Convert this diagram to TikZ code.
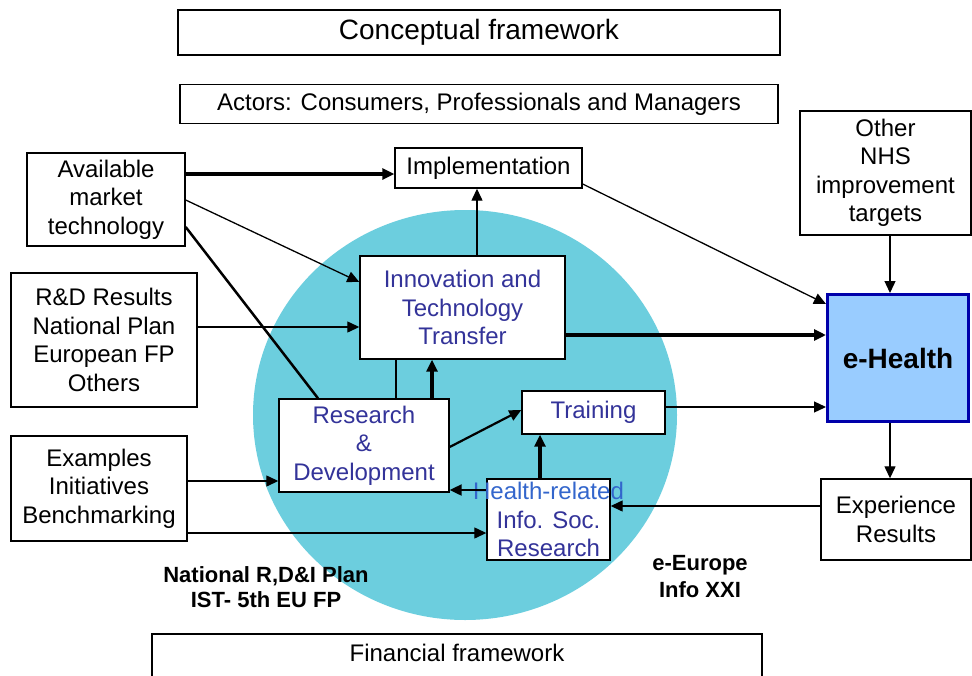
\documentclass[tikz,border=0pt]{standalone}
\usepackage{fontspec}
\setmainfont{Liberation Sans}
\usetikzlibrary{arrows.meta}
\definecolor{circ}{RGB}{108,206,222}
\definecolor{inner}{RGB}{51,51,153}
\definecolor{hrblue}{RGB}{51,102,204}
\definecolor{ehfill}{RGB}{153,204,255}
\definecolor{ehdraw}{RGB}{0,0,170}
\begin{document}
\begin{tikzpicture}[x=1pt,y=-1pt,
  box/.style={draw, line width=1.4pt, fill=white, inner sep=0pt, align=center, font=\fontsize{24}{28.5}\selectfont},
  ibox/.style={box, text=inner},
  lbl/.style={inner sep=0pt, align=center, font=\bfseries\fontsize{22}{25}\selectfont},
  conn/.style={line width=1.3pt},
  connmid/.style={line width=2.2pt},
  connthick/.style={line width=3.2pt},
  arr/.style={-{Triangle[length=12pt,width=11pt]}}
]
\useasboundingbox (0,0) rectangle (972,675);
\fill[white] (0,0) rectangle (972,675);
% central disc
\fill[circ] (465,415) ellipse [x radius=212, y radius=205];

% boxes
\node[box, minimum width=602, minimum height=45, font=\fontsize{28}{32}\selectfont] (concept) at (479,32.5) {Conceptual framework};
\node[box, minimum width=598, minimum height=39] (actors) at (479,104) {Actors: Consumers, Professionals and Managers};
\node[box, minimum width=158, minimum height=93] (avail) at (106,199.5) {Available\\market\\technology};
\node[box, minimum width=187, minimum height=40] (impl) at (488.5,168) {Implementation};
\node[box, minimum width=171, minimum height=124] (other) at (885.5,173) {Other\\NHS\\improvement\\targets};
\node[box, minimum width=186, minimum height=134] (rdres) at (104,340) {R\&D Results\\National Plan\\European FP\\Others};
\node[box, minimum width=176, minimum height=105] (examples) at (99,488.5) {Examples\\Initiatives\\Benchmarking};
\node[ibox, minimum width=205, minimum height=103] (innov) at (462.5,307.5) {Innovation and\\Technology\\Transfer};
\node[ibox, minimum width=170, minimum height=93] (rd) at (364,445.5) {Research\\\&\\Development};
\node[ibox, minimum width=143, minimum height=43] (train) at (593.5,412.5) {Training};
\node[ibox, minimum width=123, minimum height=81] (hr) at (548.5,519.5) {\makebox[123pt][c]{\color{hrblue}Health-related}\\Info. Soc.\\Research};
\node[draw=ehdraw, line width=3pt, fill=ehfill, minimum width=141, minimum height=127, inner sep=0pt, font=\bfseries\fontsize{28}{32}\selectfont] (ehealth) at (898,358) {e-Health};
\node[box, minimum width=150, minimum height=81] (exper) at (896,519.5) {Experience\\Results};

% labels
\node[lbl] (natl) at (266,587) {National R,D\&I Plan\\IST- 5th EU FP};
\node[lbl, font=\bfseries\fontsize{22}{27}\selectfont] (eeu) at (700,577) {e-Europe\\Info XXI};
\node[inner sep=0pt, font=\fontsize{24}{28}\selectfont] (fin) at (457,653) {Financial framework};
\draw[line width=1.4pt] (152,676) |- (762,634) -- (762,676);

% connectors
\draw[connthick, arr] (avail.east |- 0,174) -- (impl.west |- 0,174);
\draw[conn, arr] (avail.east |- 0,200) -- (innov.west |- 0,282);
\draw[line width=2.5pt] (avail.east |- 0,227) -- (318,0 |- rd.north);
\draw[conn, arr] (rdres.east |- 0,327) -- (innov.west |- 0,327);
\draw[conn, arr] (477,0 |- innov.north) -- (477,0 |- impl.south);
\draw[conn, arr] (impl.east |- 0,184) -- (ehealth.west |- 0,304);
\draw[connthick, arr] (innov.east |- 0,335) -- (ehealth.west |- 0,335);
\draw[conn, arr] (train.east |- 0,407) -- (ehealth.west |- 0,407);
\draw[conn, arr] (890,0 |- other.south) -- (890,0 |- ehealth.north);
\draw[conn, arr] (890,0 |- ehealth.south) -- (890,0 |- exper.north);
\draw[conn, arr] (exper.west |- 0,506) -- (hr.east |- 0,506);
\draw[conn, arr] (examples.east |- 0,481) -- (rd.west |- 0,481);
\draw[conn, arr] (examples.east |- 0,533) -- (hr.west |- 0,533);
\draw[connthick, arr] (432,0 |- rd.north) -- (432,0 |- innov.south);
\draw[conn] (396,0 |- rd.north) -- (396,0 |- innov.south);
\draw[connmid, arr] (rd.east |- 0,447) -- (train.west |- 0,410);
\draw[connthick, arr] (540,0 |- hr.north) -- (540,0 |- train.south);
\draw[connmid, arr] (hr.west |- 0,490) -- (rd.east |- 0,490);
\end{tikzpicture}
\end{document}
